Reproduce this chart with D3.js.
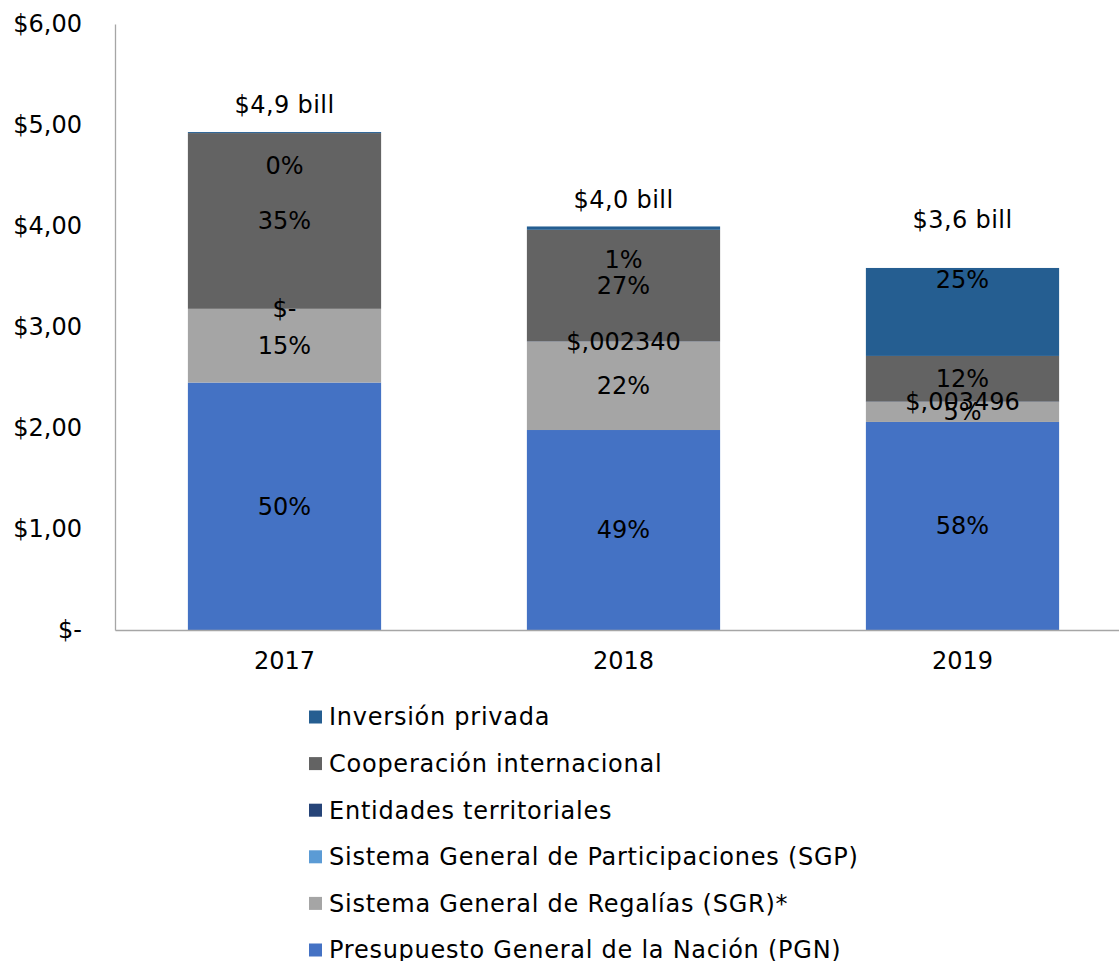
<!DOCTYPE html>
<html>
<head>
<meta charset="utf-8">
<script src="https://cdn.jsdelivr.net/npm/d3@7"></script>
<style>
  body { margin: 0; background: #fff; }
  text { font-family: "DejaVu Sans", Verdana, sans-serif; fill: #000; }
</style>
</head>
<body>
<div id="chart"></div>
<script>
// years on the x axis
var years = ["2017", "2018", "2019"];

// series, bottom to top of each stack (values in $ billones)
var series = [
  "Presupuesto General de la Nación (PGN)",
  "Sistema General de Regalías (SGR)*",
  "Sistema General de Participaciones (SGP)",
  "Entidades territoriales",
  "Cooperación internacional",
  "Inversión privada"
];
var colors = ["#4472C4", "#A5A5A5", "#5B9BD5", "#264478", "#636363", "#255E91"];

var pgn         = [2.45, 1.98, 2.06];
var sgr         = [0.73, 0.875, 0.198];
var sgp         = [0, 0, 0];
var entidades   = [0, 0.00234, 0.003496];
var cooperacion = [1.74, 1.105, 0.452];
var inversion   = [0.01, 0.033, 0.871];

// data labels as shown on the chart
var pgnLabels         = ["50%", "49%", "58%"];
var sgrLabels         = ["15%", "22%", "5%"];
var entidadesLabels   = ["$-", "$,002340", "$,003496"];
var cooperacionLabels = ["35%", "27%", "12%"];
var inversionLabels   = ["0%", "1%", "25%"];
var totalLabels       = ["$4,9 bill", "$4,0 bill", "$3,6 bill"];

var yTicks = [0, 1, 2, 3, 4, 5, 6];
var yTickLabels = ["$-", "$1,00", "$2,00", "$3,00", "$4,00", "$5,00", "$6,00"];

var W = 1119, H = 961;
var margin = {left: 115, right: 1132, top: 24, bottom: 630};
var fontSize = "24px";

var svg = d3.select("#chart").append("svg")
  .attr("width", W)
  .attr("height", H);

var x = d3.scaleBand()
  .domain(years)
  .range([margin.left, margin.right])
  .paddingInner(0.43)
  .paddingOuter(0.215);

var y = d3.scaleLinear()
  .domain([0, 6])
  .range([margin.bottom, margin.top]);

var values = [pgn, sgr, sgp, entidades, cooperacion, inversion];
var rows = years.map(function(yr, i) {
  var r = { year: yr };
  series.forEach(function(s, k) { r[s] = values[k][i]; });
  return r;
});
var stacked = d3.stack().keys(series)(rows);

// bars
svg.selectAll("g.layer")
  .data(stacked)
  .enter().append("g")
    .attr("class", "layer")
    .attr("fill", function(d, k) { return colors[k]; })
  .selectAll("rect")
  .data(function(d) { return d; })
  .enter().append("rect")
    .attr("x", function(d) { return x(d.data.year); })
    .attr("y", function(d) { return y(d[1]); })
    .attr("width", x.bandwidth())
    .attr("height", function(d) { return y(d[0]) - y(d[1]); });

// axes
var yAxis = svg.append("g")
  .attr("transform", "translate(" + margin.left + ",0)")
  .call(d3.axisLeft(y).tickValues(yTicks).tickSize(0).tickPadding(33)
    .tickFormat(function(d, i) { return yTickLabels[i]; }));
yAxis.select(".domain").attr("stroke", "#a6a6a6").attr("stroke-width", 1.3);
yAxis.selectAll("text").style("font-size", fontSize).style("font-family", "DejaVu Sans");

var xAxis = svg.append("g")
  .attr("transform", "translate(0," + margin.bottom + ")")
  .call(d3.axisBottom(x).tickSize(0).tickPadding(22));
xAxis.select(".domain").attr("stroke", "#a6a6a6").attr("stroke-width", 1.3);
xAxis.selectAll("text").style("font-size", fontSize).style("font-family", "DejaVu Sans");

// segment labels
function segLabels(k, labels) {
  svg.append("g").selectAll("text")
    .data(stacked[k])
    .enter().append("text")
      .attr("x", function(d) { return x(d.data.year) + x.bandwidth() / 2; })
      .attr("y", function(d) { return y((d[0] + d[1]) / 2); })
      .attr("dy", "0.35em")
      .attr("text-anchor", "middle")
      .style("font-size", fontSize)
      .text(function(d, i) { return labels[i]; });
}
segLabels(0, pgnLabels);
segLabels(1, sgrLabels);
segLabels(3, entidadesLabels);
segLabels(4, cooperacionLabels);

// inversión privada labels sit a little below the top of each stack
var invOffset = [34, 33, 12];
svg.append("g").selectAll("text")
  .data(stacked[5])
  .enter().append("text")
    .attr("x", function(d) { return x(d.data.year) + x.bandwidth() / 2; })
    .attr("y", function(d, i) { return y(d[1]) + invOffset[i]; })
    .attr("dy", "0.35em")
    .attr("text-anchor", "middle")
    .style("font-size", fontSize)
    .text(function(d, i) { return inversionLabels[i]; });

// totals above the bars
var totalOffset = [27, 27, 48];
svg.append("g").selectAll("text")
  .data(stacked[5])
  .enter().append("text")
    .attr("x", function(d) { return x(d.data.year) + x.bandwidth() / 2; })
    .attr("y", function(d, i) { return y(d[1]) - totalOffset[i]; })
    .attr("dy", "0.35em")
    .attr("text-anchor", "middle")
    .style("font-size", fontSize)
    .style("letter-spacing", "0.4px")
    .text(function(d, i) { return totalLabels[i]; });

// legend, top entry first
var legendOrder = series.map(function(s, k) { return k; }).reverse();
var legend = svg.append("g").selectAll("g")
  .data(legendOrder)
  .enter().append("g")
    .attr("transform", function(k, i) { return "translate(309," + (717 + i * 46.6) + ")"; });
legend.append("rect")
  .attr("x", 0).attr("y", -6.5)
  .attr("width", 13).attr("height", 13)
  .attr("fill", function(k) { return colors[k]; });
legend.append("text")
  .attr("x", 20)
  .attr("dy", "0.35em")
  .style("font-size", fontSize)
  .style("letter-spacing", "0.75px")
  .text(function(k) { return series[k]; });
</script>
</body>
</html>
